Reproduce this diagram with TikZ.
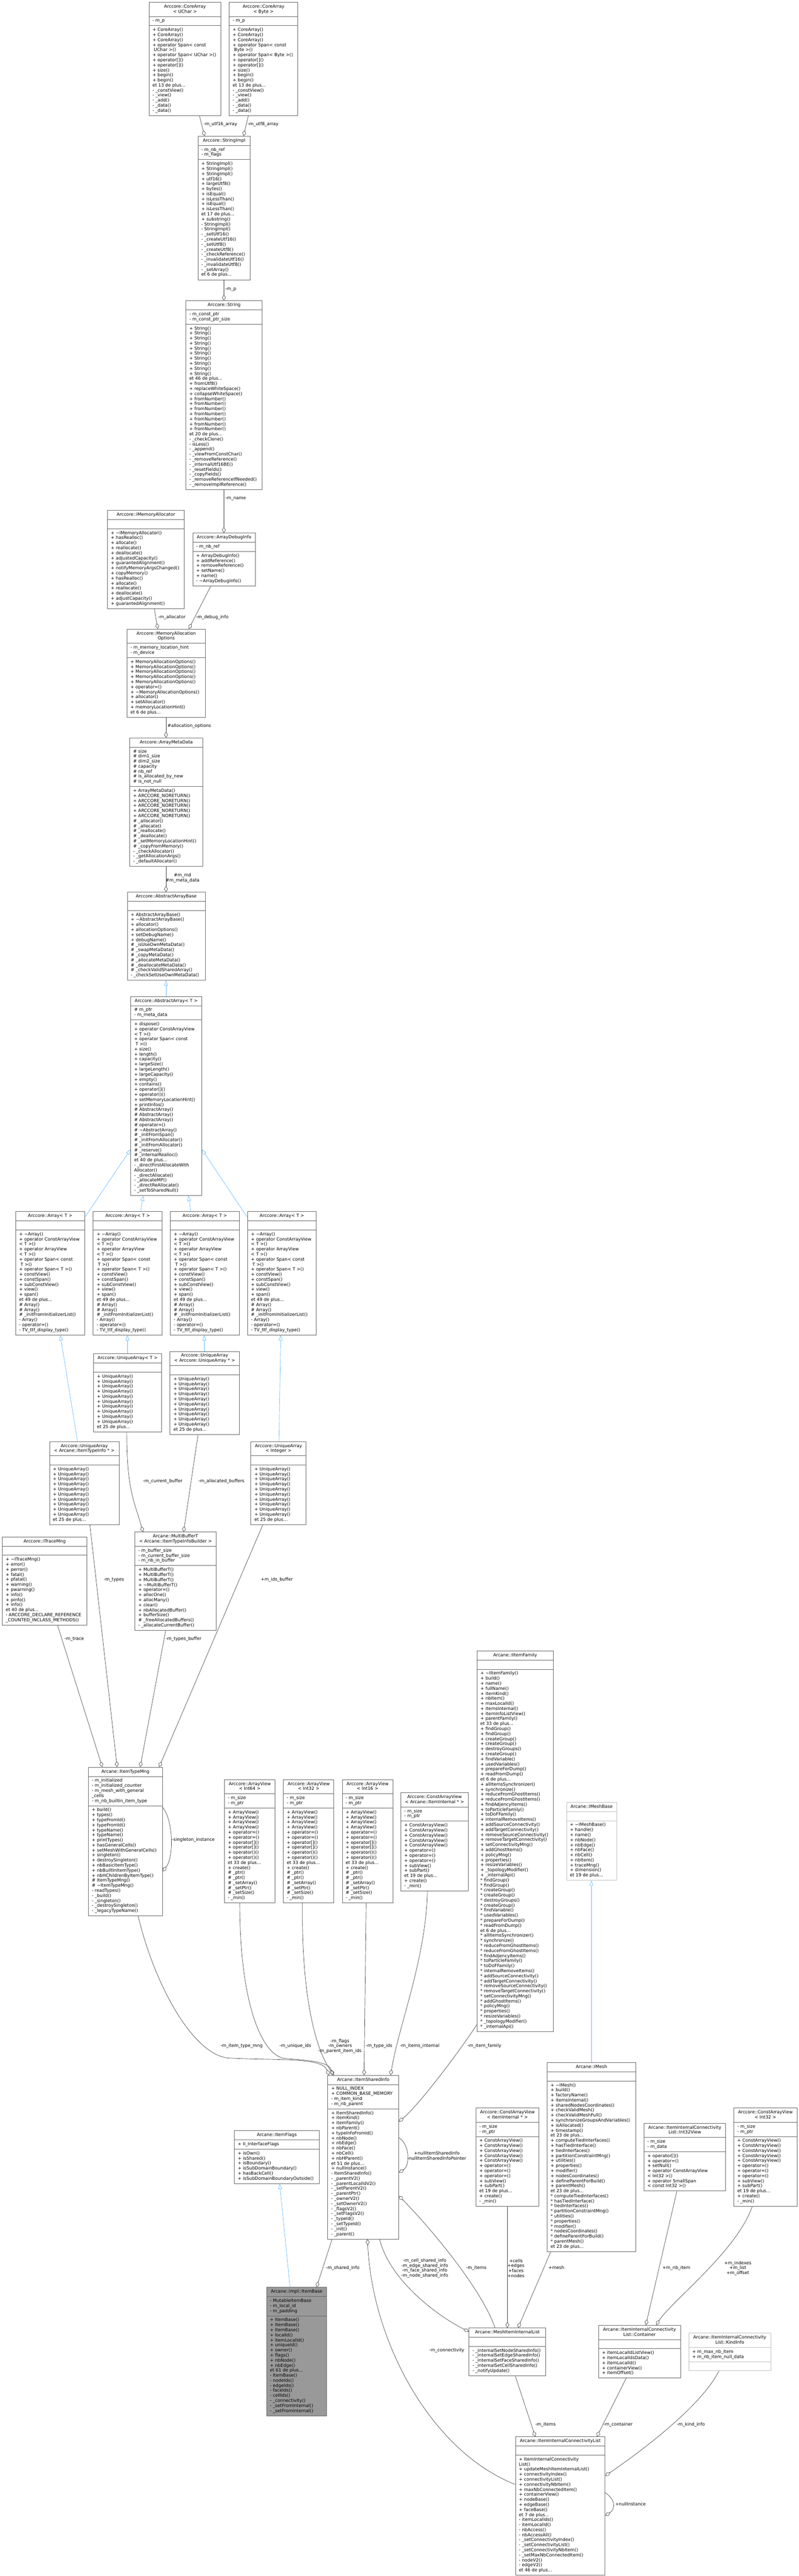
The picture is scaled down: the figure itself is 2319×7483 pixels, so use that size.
\documentclass[tikz,border=0pt]{standalone}
\usepackage{fontspec}
\setmainfont{DejaVu Sans}
\usetikzlibrary{shapes.multipart,arrows.meta}
\definecolor{bordergray}{HTML}{666666}
\definecolor{lightborder}{HTML}{BFBFBF}
\definecolor{edgegray}{HTML}{404040}
\definecolor{inhblue}{HTML}{63B8FF}
\definecolor{focusfill}{HTML}{999999}
\newdimen\bw
\newcommand\umL[1]{\hbox to\bw{\strut#1\hfil}}
\newcommand\umC[1]{\hbox to\bw{\hfil\strut#1\hfil}}
\newcommand\Tld{\textasciitilde}
\newcommand\UML[8][]{%
  \bw=\dimexpr #5pt-20pt\relax
  \node[umlbox,#1] (#2) at (#3,#4) {\vbox{#6}\nodepart{second}\vbox{#7}\nodepart{third}\vbox{#8}};%
}
\tikzset{
  umlbox/.style={rectangle split, rectangle split parts=3, draw=bordergray, line width=1.3pt,
    inner xsep=10pt, inner ysep=5.35pt, anchor=north west, fill=white,
    font=\fontsize{12.8}{14.65}\selectfont},
  lightbox/.style={draw=lightborder},
  focusbox/.style={fill=focusfill},
  agg/.style={draw=edgegray, line width=1pt, -{Diamond[open,length=17pt,width=11pt]}},
  inh/.style={draw=inhblue, line width=1pt, -{Triangle[open,length=15pt,width=11pt]}},
  lbl/.style={inner sep=0pt, font=\fontsize{12.8}{14.65}\selectfont, text=black},
}
\begin{document}
\begin{tikzpicture}[x=1pt,y=-1pt]
\useasboundingbox[fill=white] (0,0) rectangle (2319,7483);

% ---------------- nodes ----------------
\UML{cauchar}{432}{6}{209}{\umC{Arccore::CoreArray}\umC{< UChar >}}{\umL{- m\_p}}{%
\umL{+ CoreArray()}\umL{+ CoreArray()}\umL{+ CoreArray()}\umL{+ operator Span< const}\umL{\ UChar >()}%
\umL{+ operator Span< UChar >()}\umL{+ operator[]()}\umL{+ operator[]()}\umL{+ size()}\umL{+ begin()}\umL{+ begin()}%
\umL{et 13 de plus...}\umL{- \_constView()}\umL{- \_view()}\umL{- \_add()}\umL{- \_data()}\umL{- \_data()}}

\UML{cabyte}{665}{6}{199}{\umC{Arccore::CoreArray}\umC{< Byte >}}{\umL{- m\_p}}{%
\umL{+ CoreArray()}\umL{+ CoreArray()}\umL{+ CoreArray()}\umL{+ operator Span< const}\umL{\ Byte >()}%
\umL{+ operator Span< Byte >()}\umL{+ operator[]()}\umL{+ operator[]()}\umL{+ size()}\umL{+ begin()}\umL{+ begin()}%
\umL{et 13 de plus...}\umL{- \_constView()}\umL{- \_view()}\umL{- \_add()}\umL{- \_data()}\umL{- \_data()}}

\UML{simpl}{574}{395}{152}{\umC{Arccore::StringImpl}}{\umL{- m\_nb\_ref}\umL{- m\_flags}}{%
\umL{+ StringImpl()}\umL{+ StringImpl()}\umL{+ StringImpl()}\umL{+ utf16()}\umL{+ largeUtf8()}\umL{+ bytes()}%
\umL{+ isEqual()}\umL{+ isLessThan()}\umL{+ isEqual()}\umL{+ isLessThan()}\umL{et 17 de plus...}\umL{+ substring()}%
\umL{- StringImpl()}\umL{- StringImpl()}\umL{- \_setUtf16()}\umL{- \_createUtf16()}\umL{- \_setUtf8()}\umL{- \_createUtf8()}%
\umL{- \_checkReference()}\umL{- \_invalidateUtf16()}\umL{- \_invalidateUtf8()}\umL{- \_setArray()}\umL{et 6 de plus...}}

\UML{string}{539}{873}{222}{\umC{Arccore::String}}{\umL{- m\_const\_ptr}\umL{- m\_const\_ptr\_size}}{%
\umL{+ String()}\umL{+ String()}\umL{+ String()}\umL{+ String()}\umL{+ String()}\umL{+ String()}\umL{+ String()}%
\umL{+ String()}\umL{+ String()}\umL{+ String()}\umL{et 46 de plus...}\umL{+ fromUtf8()}\umL{+ replaceWhiteSpace()}%
\umL{+ collapseWhiteSpace()}\umL{+ fromNumber()}\umL{+ fromNumber()}\umL{+ fromNumber()}\umL{+ fromNumber()}%
\umL{+ fromNumber()}\umL{+ fromNumber()}\umL{+ fromNumber()}\umL{et 20 de plus...}\umL{- \_checkClone()}\umL{- isLess()}%
\umL{- \_append()}\umL{- \_viewFromConstChar()}\umL{- \_removeReference()}\umL{- \_internalUtf16BE()}\umL{- \_resetFields()}%
\umL{- \_copyFields()}\umL{- \_removeReferenceIfNeeded()}\umL{- \_removeImplReference()}}

\UML{imalloc}{311}{1482}{224}{\umC{Arccore::IMemoryAllocator}}{\umL{}}{%
\umL{+ \Tld IMemoryAllocator()}\umL{+ hasRealloc()}\umL{+ allocate()}\umL{+ reallocate()}\umL{+ deallocate()}%
\umL{+ adjustedCapacity()}\umL{+ guarantedAlignment()}\umL{+ notifyMemoryArgsChanged()}\umL{+ copyMemory()}%
\umL{+ hasRealloc()}\umL{+ allocate()}\umL{+ reallocate()}\umL{+ deallocate()}\umL{+ adjustCapacity()}\umL{+ guarantedAlignment()}}

\UML{adbg}{559}{1548}{182}{\umC{Arccore::ArrayDebugInfo}}{\umL{- m\_nb\_ref}}{%
\umL{+ ArrayDebugInfo()}\umL{+ addReference()}\umL{+ removeReference()}\umL{+ setName()}\umL{+ name()}\umL{- \Tld ArrayDebugInfo()}}

\UML{mao}{368}{1827}{228}{\umC{Arccore::MemoryAllocation}\umC{Options}}{\umL{- m\_memory\_location\_hint}\umL{- m\_device}}{%
\umL{+ MemoryAllocationOptions()}\umL{+ MemoryAllocationOptions()}\umL{+ MemoryAllocationOptions()}%
\umL{+ MemoryAllocationOptions()}\umL{+ MemoryAllocationOptions()}\umL{+ operator=()}\umL{+ \Tld MemoryAllocationOptions()}%
\umL{+ allocator()}\umL{+ setAllocator()}\umL{+ memoryLocationHint()}\umL{et 6 de plus...}}

\UML{amd}{376}{2143}{212}{\umC{Arccore::ArrayMetaData}}{%
\umL{\# size}\umL{\# dim1\_size}\umL{\# dim2\_size}\umL{\# capacity}\umL{\# nb\_ref}\umL{\# is\_allocated\_by\_new}\umL{\# is\_not\_null}}{%
\umL{+ ArrayMetaData()}\umL{+ ARCCORE\_NORETURN()}\umL{+ ARCCORE\_NORETURN()}\umL{+ ARCCORE\_NORETURN()}%
\umL{+ ARCCORE\_NORETURN()}\umL{+ ARCCORE\_NORETURN()}\umL{\# \_allocator()}\umL{\# \_allocate()}\umL{\# \_reallocate()}%
\umL{\# \_deallocate()}\umL{\# \_setMemoryLocationHint()}\umL{\# \_copyFromMemory()}\umL{- \_checkAllocator()}%
\umL{- \_getAllocationArgs()}\umL{- \_defaultAllocator()}}

\UML{aab}{369}{2591}{226}{\umC{Arccore::AbstractArrayBase}}{\umL{}}{%
\umL{+ AbstractArrayBase()}\umL{+ \Tld AbstractArrayBase()}\umL{+ allocator()}\umL{+ allocationOptions()}%
\umL{+ setDebugName()}\umL{+ debugName()}\umL{\# \_isUseOwnMetaData()}\umL{\# \_swapMetaData()}\umL{\# \_copyMetaData()}%
\umL{\# \_allocateMetaData()}\umL{\# \_deallocateMetaData()}\umL{\# \_checkValidSharedArray()}\umL{- \_checkSetUseOwnMetaData()}}

\UML{aa}{379}{2894}{206}{\umC{Arccore::AbstractArray< T >}}{\umL{\# m\_ptr}\umL{- m\_meta\_data}}{%
\umL{+ dispose()}\umL{+ operator ConstArrayView}\umL{< T >()}\umL{+ operator Span< const}\umL{\ T >()}%
\umL{+ size()}\umL{+ length()}\umL{+ capacity()}\umL{+ largeSize()}\umL{+ largeLength()}\umL{+ largeCapacity()}%
\umL{+ empty()}\umL{+ contains()}\umL{+ operator[]()}\umL{+ operator()()}\umL{+ setMemoryLocationHint()}\umL{+ printInfos()}%
\umL{\# AbstractArray()}\umL{\# AbstractArray()}\umL{\# AbstractArray()}\umL{\# operator=()}\umL{\# \Tld AbstractArray()}%
\umL{\# \_initFromSpan()}\umL{\# \_initFromAllocator()}\umL{\# \_initFromAllocator()}\umL{\# \_reserve()}%
\umL{\# \_internalRealloc()}\umL{et 40 de plus...}\umL{- \_directFirstAllocateWith}\umL{Allocator()}%
\umL{- \_directAllocate()}\umL{- \_allocateMP()}\umL{- \_directReAllocate()}\umL{- \_setToSharedNull()}}

\newcommand\arraymethods{%
\umL{+ \Tld Array()}\umL{+ operator ConstArrayView}\umL{< T >()}\umL{+ operator ArrayView}\umL{< T >()}%
\umL{+ operator Span< const}\umL{\ T >()}\umL{+ operator Span< T >()}\umL{+ constView()}\umL{+ constSpan()}%
\umL{+ subConstView()}\umL{+ view()}\umL{+ span()}\umL{et 49 de plus...}\umL{\# Array()}\umL{\# Array()}%
\umL{\# \_initFromInitializerList()}\umL{- Array()}\umL{- operator=()}\umL{- TV\_ttf\_display\_type()}}
\UML{arr1}{45}{3519}{200}{\umC{Arccore::Array< T >}}{\umL{}}{\arraymethods}
\UML{arr2}{270}{3519}{200}{\umC{Arccore::Array< T >}}{\umL{}}{\arraymethods}
\UML{arr3}{494}{3519}{200}{\umC{Arccore::Array< T >}}{\umL{}}{\arraymethods}
\UML{arr4}{718}{3519}{200}{\umC{Arccore::Array< T >}}{\umL{}}{\arraymethods}

\newcommand\uamethods{%
\umL{+ UniqueArray()}\umL{+ UniqueArray()}\umL{+ UniqueArray()}\umL{+ UniqueArray()}\umL{+ UniqueArray()}%
\umL{+ UniqueArray()}\umL{+ UniqueArray()}\umL{+ UniqueArray()}\umL{+ UniqueArray()}\umL{+ UniqueArray()}%
\umL{et 25 de plus...}}
\UML{uaT}{271}{3932}{198}{\umC{Arccore::UniqueArray< T >}}{\umL{}}{\uamethods}
\UML{uaUA}{493}{3925}{201}{\umC{Arccore::UniqueArray}\umC{< Arccore::UniqueArray * >}}{\umL{}}{\uamethods}
\UML{uaITI}{143}{4187}{202}{\umC{Arccore::UniqueArray}\umC{< Arcane::ItemTypeInfo * >}}{\umL{}}{\uamethods}
\UML{uaInt}{728}{4187}{160}{\umC{Arccore::UniqueArray}\umC{< Integer >}}{\umL{}}{\uamethods}

\UML{itrace}{6}{4464}{246}{\umC{Arccore::ITraceMng}}{\umL{}}{%
\umL{+ \Tld ITraceMng()}\umL{+ error()}\umL{+ perror()}\umL{+ fatal()}\umL{+ pfatal()}\umL{+ warning()}%
\umL{+ pwarning()}\umL{+ info()}\umL{+ pinfo()}\umL{+ info()}\umL{et 40 de plus...}%
\umL{- ARCCORE\_DECLARE\_REFERENCE}\umL{\_COUNTED\_INCLASS\_METHODS()}}

\UML{mbuf}{391}{4450}{236}{\umC{Arcane::MultiBufferT}\umC{< Arcane::ItemTypeInfoBuilder >}}{%
\umL{- m\_buffer\_size}\umL{- m\_current\_buffer\_size}\umL{- m\_nb\_in\_buffer}}{%
\umL{+ MultiBufferT()}\umL{+ MultiBufferT()}\umL{+ MultiBufferT()}\umL{+ \Tld MultiBufferT()}\umL{+ operator=()}%
\umL{+ allocOne()}\umL{+ allocMany()}\umL{+ clear()}\umL{+ nbAllocatedBuffer()}\umL{+ bufferSize()}%
\umL{\# \_freeAllocatedBuffers()}\umL{- \_allocateCurrentBuffer()}}

\UML{itm}{256}{5133}{215}{\umC{Arcane::ItemTypeMng}}{%
\umL{- m\_initialized}\umL{- m\_initialized\_counter}\umL{- m\_mesh\_with\_general}\umL{\_cells}\umL{- m\_nb\_builtin\_item\_type}}{%
\umL{+ build()}\umL{+ types()}\umL{+ typeFromId()}\umL{+ typeFromId()}\umL{+ typeName()}\umL{+ typeName()}%
\umL{+ printTypes()}\umL{+ hasGeneralCells()}\umL{+ setMeshWithGeneralCells()}\umL{+ singleton()}%
\umL{+ destroySingleton()}\umL{+ nbBasicItemType()}\umL{+ nbBuiltInItemType()}\umL{+ nbHChildrenByItemType()}%
\umL{\# ItemTypeMng()}\umL{\# \Tld ItemTypeMng()}\umL{- readTypes()}\umL{- \_build()}\umL{- \_singleton()}%
\umL{- \_destroySingleton()}\umL{- \_legacyTypeName()}}

\newcommand\avmethods{%
\umL{+ ArrayView()}\umL{+ ArrayView()}\umL{+ ArrayView()}\umL{+ ArrayView()}\umL{+ operator=()}\umL{+ operator=()}%
\umL{+ operator[]()}\umL{+ operator[]()}\umL{+ operator()()}\umL{+ operator()()}\umL{et 33 de plus...}\umL{+ create()}%
\umL{\# \_ptr()}\umL{\# \_ptr()}\umL{\# \_setArray()}\umL{\# \_setPtr()}\umL{\# \_setSize()}\umL{- \_min()}}
\UML{av64}{651}{5169}{147}{\umC{Arccore::ArrayView}\umC{< Int64 >}}{\umL{- m\_size}\umL{- m\_ptr}}{\avmethods}
\UML{av32}{822}{5169}{147}{\umC{Arccore::ArrayView}\umC{< Int32 >}}{\umL{- m\_size}\umL{- m\_ptr}}{\avmethods}
\UML{av16}{993}{5169}{147}{\umC{Arccore::ArrayView}\umC{< Int16 >}}{\umL{- m\_size}\umL{- m\_ptr}}{\avmethods}

\newcommand\cavmethods{%
\umL{+ ConstArrayView()}\umL{+ ConstArrayView()}\umL{+ ConstArrayView()}\umL{+ ConstArrayView()}\umL{+ ConstArrayView()}%
\umL{+ operator=()}\umL{+ operator=()}\umL{+ operator=()}\umL{+ subView()}\umL{+ subPart()}\umL{et 19 de plus...}%
\umL{+ create()}\umL{- \_min()}}
\UML{cavA}{1163}{5207}{196}{\umC{Arccore::ConstArrayView}\umC{< Arcane::ItemInternal * >}}{\umL{- m\_size}\umL{- m\_ptr}}{\cavmethods}
\UML{cavB}{1381}{6123}{183}{\umC{Arccore::ConstArrayView}\umC{< ItemInternal * >}}{\umL{- m\_size}\umL{- m\_ptr}}{\cavmethods}
\UML{cav32}{2130}{6123}{183}{\umC{Arccore::ConstArrayView}\umC{< Int32 >}}{\umL{- m\_size}\umL{- m\_ptr}}{\cavmethods}

\newcommand\famblock[1]{%
\umL{#1 findGroup()}\umL{#1 findGroup()}\umL{#1 createGroup()}\umL{#1 createGroup()}\umL{#1 destroyGroups()}%
\umL{#1 createGroup()}\umL{#1 findVariable()}\umL{#1 usedVariables()}\umL{#1 prepareForDump()}\umL{#1 readFromDump()}%
\umL{et 6 de plus...}\umL{#1 allItemsSynchronizer()}\umL{#1 synchronize()}\umL{#1 reduceFromGhostItems()}%
\umL{#1 reduceFromGhostItems()}\umL{#1 findAdjencyItems()}\umL{#1 toParticleFamily()}\umL{#1 toDoFFamily()}%
\umL{#1 internalRemoveItems()}\umL{#1 addSourceConnectivity()}\umL{#1 addTargetConnectivity()}%
\umL{#1 removeSourceConnectivity()}\umL{#1 removeTargetConnectivity()}\umL{#1 setConnectivityMng()}%
\umL{#1 addGhostItems()}\umL{#1 policyMng()}\umL{#1 properties()}\umL{#1 resizeVariables()}%
\umL{#1 \_topologyModifier()}\umL{#1 \_internalApi()}}
\UML{ifam}{1384}{4795}{222}{\umC{Arcane::IItemFamily}}{\umL{}}{%
\umL{+ \Tld IItemFamily()}\umL{+ build()}\umL{+ name()}\umL{+ fullName()}\umL{+ itemKind()}\umL{+ nbItem()}%
\umL{+ maxLocalId()}\umL{+ itemsInternal()}\umL{+ itemInfoListView()}\umL{+ parentFamily()}\umL{et 33 de plus...}%
\famblock{+}\famblock{*}}

\UML[lightbox]{imb}{1644}{5235}{146}{\umC{Arcane::IMeshBase}}{\umL{}}{%
\umL{+ \Tld IMeshBase()}\umL{+ handle()}\umL{+ name()}\umL{+ nbNode()}\umL{+ nbEdge()}\umL{+ nbFace()}%
\umL{+ nbCell()}\umL{+ nbItem()}\umL{+ traceMng()}\umL{+ dimension()}\umL{et 19 de plus...}}

\newcommand\meshblock[1]{%
\umL{#1 computeTiedInterfaces()}\umL{#1 hasTiedInterface()}\umL{#1 tiedInterfaces()}\umL{#1 partitionConstraintMng()}%
\umL{#1 utilities()}\umL{#1 properties()}\umL{#1 modifier()}\umL{#1 nodesCoordinates()}\umL{#1 defineParentForBuild()}%
\umL{#1 parentMesh()}\umL{et 23 de plus...}}
\UML{imesh}{1588}{5991}{257}{\umC{Arcane::IMesh}}{\umL{}}{%
\umL{+ \Tld IMesh()}\umL{+ build()}\umL{+ factoryName()}\umL{+ itemsInternal()}\umL{+ sharedNodesCoordinates()}%
\umL{+ checkValidMesh()}\umL{+ checkValidMeshFull()}\umL{+ synchronizeGroupsAndVariables()}\umL{+ isAllocated()}%
\umL{+ timestamp()}\umL{et 23 de plus...}\meshblock{+}\meshblock{*}}

\UML{isi}{951}{6028}{206}{\umC{Arcane::ItemSharedInfo}}{%
\umL{+ NULL\_INDEX}\umL{+ COMMON\_BASE\_MEMORY}\umL{- m\_item\_kind}\umL{- m\_nb\_parent}}{%
\umL{+ ItemSharedInfo()}\umL{+ itemKind()}\umL{+ itemFamily()}\umL{+ nbParent()}\umL{+ typeInfoFromId()}%
\umL{+ nbNode()}\umL{+ nbEdge()}\umL{+ nbFace()}\umL{+ nbCell()}\umL{+ nbHParent()}\umL{et 51 de plus...}%
\umL{+ nullInstance()}\umL{- ItemSharedInfo()}\umL{- \_parentV2()}\umL{- \_parentLocalIdV2()}\umL{- \_setParentV2()}%
\umL{- \_parentPtr()}\umL{- \_ownerV2()}\umL{- \_setOwnerV2()}\umL{- \_flagsV2()}\umL{- \_setFlagsV2()}%
\umL{- \_typeId()}\umL{- \_setTypeId()}\umL{- \_init()}\umL{- \_parent()}}

\UML{iflags}{680}{6189}{246}{\umC{Arcane::ItemFlags}}{\umL{+ II\_InterfaceFlags}}{%
\umL{+ isOwn()}\umL{+ isShared()}\umL{+ isBoundary()}\umL{+ isSubDomainBoundary()}\umL{+ hasBackCell()}%
\umL{+ isSubDomainBoundaryOutside()}}

\UML[focusbox]{ibase}{773}{6644}{175}{\umC{Arcane::impl::ItemBase}}{%
\umL{- MutableItemBase}\umL{- m\_local\_id}\umL{- m\_padding}}{%
\umL{+ ItemBase()}\umL{+ ItemBase()}\umL{+ ItemBase()}\umL{+ localId()}\umL{+ itemLocalId()}\umL{+ uniqueId()}%
\umL{+ owner()}\umL{+ flags()}\umL{+ nbNode()}\umL{+ nbEdge()}\umL{et 61 de plus...}\umL{- ItemBase()}%
\umL{- nodeIds()}\umL{- edgeIds()}\umL{- faceIds()}\umL{- cellIds()}\umL{- \_connectivity()}%
\umL{- \_setFromInternal()}\umL{- \_setFromInternal()}}

\UML{i32v}{1869}{6167}{237}{\umC{Arcane::ItemInternalConnectivity}\umC{List::Int32View}}{\umL{- m\_size}\umL{- m\_data}}{%
\umL{+ operator[]()}\umL{+ operator=()}\umL{+ setNull()}\umL{+ operator ConstArrayView}\umL{< Int32 >()}%
\umL{+ operator SmallSpan}\umL{< const Int32 >()}}

\UML{miil}{1361}{6762}{223}{\umC{Arcane::MeshItemInternalList}}{\umL{}}{%
\umL{- \_internalSetNodeSharedInfo()}\umL{- \_internalSetEdgeSharedInfo()}\umL{- \_internalSetFaceSharedInfo()}%
\umL{- \_internalSetCellSharedInfo()}\umL{- \_notifyUpdate()}}

\UML{cont}{1737}{6754}{238}{\umC{Arcane::ItemInternalConnectivity}\umC{List::Container}}{\umL{}}{%
\umL{+ itemLocalIdListView()}\umL{+ itemLocalIdsData()}\umL{+ itemLocalId()}\umL{+ containerView()}\umL{+ itemOffset()}}

\UML[lightbox]{kind}{1999}{6777}{238}{\umC{Arcane::ItemInternalConnectivity}\umC{List::KindInfo}}{%
\umL{+ m\_max\_nb\_item}\umL{+ m\_nb\_item\_null\_data}}{\umL{}}

\UML{iicl}{1496}{7078}{260}{\umC{Arcane::ItemInternalConnectivityList}}{\umL{}}{%
\umL{+ ItemInternalConnectivity}\umL{List()}\umL{+ updateMeshItemInternalList()}\umL{+ connectivityIndex()}%
\umL{+ connectivityList()}\umL{+ connectivityNbItem()}\umL{+ maxNbConnectedItem()}\umL{+ containerView()}%
\umL{+ nodeBase()}\umL{+ edgeBase()}\umL{+ faceBase()}\umL{et 7 de plus...}\umL{- itemLocalIds()}%
\umL{- itemLocalId()}\umL{- nbAccess()}\umL{- nbAccessAll()}\umL{- \_setConnectivityIndex()}%
\umL{- \_setConnectivityList()}\umL{- \_setConnectivityNbItem()}\umL{- \_setMaxNbConnectedItem()}%
\umL{- nodeV2()}\umL{- edgeV2()}\umL{et 46 de plus...}}

% ---------------- inheritance ----------------
\draw[inh] ([xshift=103pt]aa.north west) -- ([xshift=113pt]aab.south west);
\draw[inh] ([yshift=-17pt]arr1.north east) -- ([yshift=-445pt]aa.north west);
\draw[inh] ([xshift=138pt]arr2.north west) -- ([xshift=37pt]aa.south west);
\draw[inh] ([xshift=60pt]arr3.north west) -- ([xshift=168pt]aa.south west);
\draw[inh] ([yshift=-17pt]arr4.north west) -- ([yshift=-445pt]aa.north east);
\draw[inh] ([xshift=99pt]uaT.north west) -- ([xshift=100pt]arr2.south west);
\draw[inh] ([xshift=100pt]uaUA.north west) -- ([xshift=99pt]arr3.south west);
\draw[inh] ([xshift=82pt]uaITI.north west) -- ([xshift=130pt]arr1.south west);
\draw[inh] ([xshift=82pt]uaInt.north west) -- ([xshift=97pt]arr4.south west);
\draw[inh] ([xshift=129pt]imesh.north west) -- ([xshift=73pt]imb.south west);
\draw[inh] ([xshift=69pt]ibase.north west) -- ([xshift=132pt]iflags.south west);

% ---------------- aggregation ----------------
\draw[agg] ([xshift=147pt]cauchar.south west) -- ([xshift=20pt]simpl.north west);
\draw[agg] ([xshift=56pt]cabyte.south west) -- ([xshift=133pt]simpl.north west);
\draw[agg] ([xshift=76pt]simpl.south west) -- ([xshift=111pt]string.north west);
\draw[agg] ([xshift=111pt]string.south west) -- ([xshift=91pt]adbg.north west);
\draw[agg] ([xshift=137pt]imalloc.south west) -- ([xshift=90pt]mao.north west);
\draw[agg] ([xshift=53pt]adbg.south west) -- ([xshift=180pt]mao.north west);
\draw[agg] ([xshift=114pt]mao.south west) -- ([xshift=106pt]amd.north west);
\draw[agg] ([xshift=106pt]amd.south west) -- ([xshift=113pt]aab.north west);
\draw[agg] ([xshift=97pt]uaT.south west) .. controls +(0,170) and +(-25,-90) .. ([xshift=24pt]mbuf.north west);
\draw[agg] ([xshift=82pt]uaUA.south west) -- ([xshift=142pt]mbuf.north west);
\draw[agg] ([xshift=118pt]uaITI.south west) -- ([xshift=84pt]itm.north west);
\draw[agg] ([xshift=161pt]itrace.south west) -- ([xshift=41pt]itm.north west);
\draw[agg] ([xshift=90pt]mbuf.south west) -- ([xshift=151pt]itm.north west);
\draw[agg] ([xshift=35pt]uaInt.south west) -- ([xshift=206pt]itm.north west);
\draw[agg] ([yshift=-117pt]itm.north east) .. controls +(32,40) and +(32,-40) .. ([yshift=-303pt]itm.north east);
\draw[agg] ([xshift=145pt]itm.south west) .. controls (450,5770) and (560,5965) .. (660,5978)
   .. controls (800,5986) and (935,5975) .. ([xshift=4pt]isi.north west);
\draw[agg] ([xshift=45pt]av64.south west) .. controls +(0,290) and (760,5975) .. (830,5980)
   .. controls (900,5985) and (955,5990) .. ([xshift=15pt]isi.north west);
\draw[agg] ([xshift=56pt]av32.south west) .. controls +(-3,300) and +(-45,-60) .. ([xshift=19pt]isi.north west);
\draw[agg] ([xshift=70pt]av16.south west) -- ([xshift=106pt]isi.north west);
\draw[agg] ([xshift=78pt]cavA.south west) .. controls +(-5,200) and +(25,-150) .. ([xshift=183pt]isi.north west);
\draw[agg] ([yshift=20pt]ifam.south west) .. controls +(-45,70) and +(60,-50) .. ([yshift=-135pt]isi.north east);
\draw[agg] ([yshift=-182pt]isi.north east) .. controls +(32,20) and +(32,-20) .. ([yshift=-283pt]isi.north east);
\draw[agg] ([xshift=76pt]miil.north west) .. controls +(-40,-120) and +(70,70) .. ([yshift=-351pt]isi.north east);
\draw[agg] ([xshift=151pt]isi.south west) .. controls +(30,120) and +(-90,-45) .. ([yshift=-11pt]miil.north west);
\draw[agg] ([xshift=92pt]cavB.south west) -- ([xshift=112pt]miil.north west);
\draw[agg] ([xshift=11pt]imesh.south west) -- ([xshift=143pt]miil.north west);
\draw[agg] ([xshift=96pt]i32v.south west) -- ([xshift=138pt]cont.north west);
\draw[agg] ([xshift=54pt]cav32.south west) .. controls +(-45,130) and +(45,-70) .. ([xshift=168pt]cont.north west);
\draw[agg] ([xshift=13pt]isi.south west) -- ([xshift=146pt]ibase.north west);
\draw[agg] ([yshift=-139pt]iicl.north west) .. controls (1250,7120) and (1080,6800) .. ([xshift=116pt]isi.south west);
\draw[agg] ([xshift=135pt]miil.south west) -- ([xshift=58pt]iicl.north west);
\draw[agg] ([xshift=81pt]cont.south west) -- ([xshift=237pt]iicl.north west);
\draw[agg] ([xshift=88pt]kind.south west) .. controls +(-55,110) and +(80,-55) .. ([yshift=-114pt]iicl.north east);
\draw[agg] ([yshift=-163pt]iicl.north east) .. controls +(30,20) and +(30,-20) .. ([yshift=-230pt]iicl.north east);

% ---------------- labels ----------------
\node[lbl,anchor=west] (l1) at (591,362) {\strut -m\_utf16\_array};
\node[lbl,anchor=west] (l2) at (719,362) {\strut -m\_utf8\_array};
\node[lbl,anchor=west] (l3) at (654,840) {\strut -m\_p};
\node[lbl,anchor=west] (l4) at (654,1448) {\strut -m\_name};
\node[lbl,anchor=west] (l5) at (459,1794) {\strut -m\_allocator};
\node[lbl,anchor=west] (l6) at (569,1794) {\strut -m\_debug\_info};
\node[lbl,anchor=west] (l7) at (486,2110) {\strut \#allocation\_options};
\node[lbl,align=center] (l8) at (530,2550) {\#m\_md\\\#m\_meta\_data};
\node[lbl,anchor=west] (l9) at (415,4304) {\strut -m\_current\_buffer};
\node[lbl,anchor=west] (l10) at (576,4304) {\strut -m\_allocated\_buffers};
\node[lbl,anchor=west] (l11) at (301,4589) {\strut -m\_types};
\node[lbl,anchor=west] (l12) at (187,4762) {\strut -m\_trace};
\node[lbl,anchor=west] (l13) at (481,4762) {\strut -m\_types\_buffer};
\node[lbl,anchor=west] (l14) at (757,4589) {\strut +m\_ids\_buffer};
\node[lbl,anchor=west] (l15) at (499,5345) {\strut -singleton\_instance};
\node[lbl,anchor=west] (l16) at (640,5944) {\strut -m\_item\_type\_mng};
\node[lbl,anchor=west] (l17) at (811,5944) {\strut -m\_unique\_ids};
\node[lbl,align=center] (l18) at (987,5944) {-m\_flags\\-m\_owners\\-m\_parent\_item\_ids};
\node[lbl,anchor=west] (l19) at (1062,5944) {\strut -m\_type\_ids};
\node[lbl,anchor=west] (l20) at (1161,5944) {\strut -m\_items\_internal};
\node[lbl,anchor=west] (l21) at (1357,5944) {\strut -m\_item\_family};
\node[lbl,align=center] (l22) at (1268,6262) {+nullItemSharedInfo\\-nullItemSharedInfoPointer};
\node[lbl,anchor=west] (l23) at (1353,6589) {\strut -m\_items};
\node[lbl,align=center] (l24) at (1233,6589) {-m\_cell\_shared\_info\\-m\_edge\_shared\_info\\-m\_face\_shared\_info\\-m\_node\_shared\_info};
\node[lbl,align=center] (l25) at (1498,6589) {+cells\\+edges\\+faces\\+nodes};
\node[lbl,anchor=west] (l26) at (1592,6589) {\strut +mesh};
\node[lbl,anchor=west] (l27) at (1923,6589) {\strut +m\_nb\_item};
\node[lbl,align=center] (l28) at (2142,6589) {+m\_indexes\\+m\_list\\+m\_offset};
\node[lbl,anchor=west] (l29) at (946,6589) {\strut -m\_shared\_info};
\node[lbl,anchor=west] (l30) at (1246,6828) {\strut -m\_connectivity};
\node[lbl,anchor=west] (l31) at (1554,7044) {\strut -m\_items};
\node[lbl,anchor=west] (l32) at (1752,7044) {\strut -m\_container};
\node[lbl,anchor=west] (l33) at (1965,7044) {\strut -m\_kind\_info};
\node[lbl,anchor=west] (l34) at (1786,7276) {\strut +nullInstance};
\end{tikzpicture}
\end{document}
